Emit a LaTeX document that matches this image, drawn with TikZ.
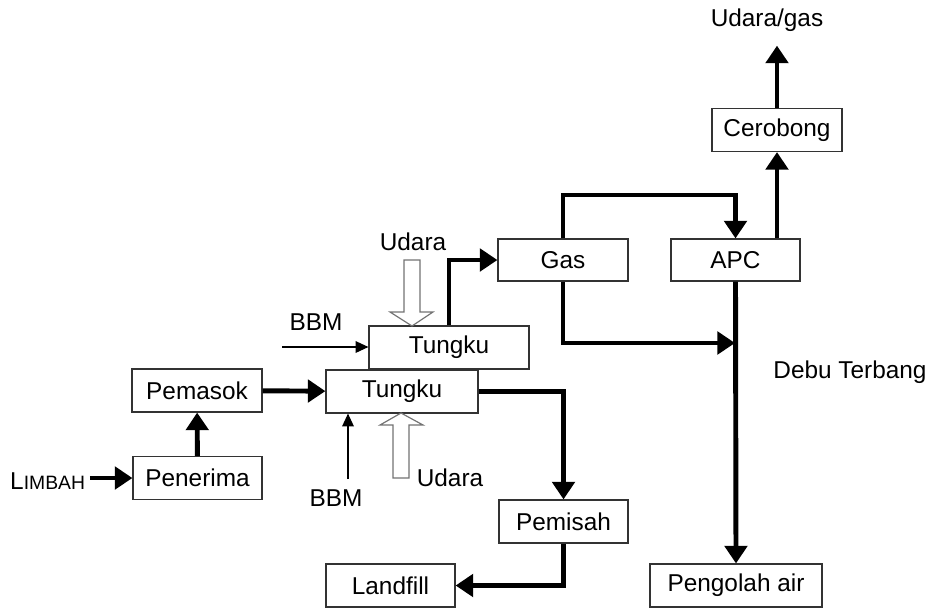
\documentclass[tikz,border=0pt]{standalone}
\usepackage{fontspec}
\setmainfont{Liberation Sans}
\usetikzlibrary{arrows.meta}
\tikzset{
  unitbox/.style={draw=black!80, line width=1pt, fill=white, inner sep=0pt,
    minimum height=43*0.03cm, font=\fontsize{20.8}{24}\selectfont},
  lbl/.style={inner sep=0pt, font=\fontsize{20.8}{24}\selectfont},
  flow/.style={line width=4.2pt, -{Triangle[length=15pt,width=19pt]}},
  feed/.style={line width=1pt, -{Triangle[length=11pt,width=10pt]}},
  hollow/.style={draw=black!55, line width=1pt, fill=white, line join=miter}
}
% open arrow: shaft x0..x1, shaft end y, head base y, head x2..x3, tip y
\newcommand{\openarrow}[7]{\draw[hollow] (#1,#3) -- (#1,#4) -- (#5,#4) -- ({(#1+#2)/2},#7) -- (#6,#4) -- (#2,#4) -- (#2,#3) -- cycle;}
\begin{document}
\begin{tikzpicture}[x=0.03cm, y=-0.03cm]
\useasboundingbox (0,0) rectangle (931,607);

% boxes
\node[unitbox, minimum width=130*0.03cm] (cerobong) at (777,130) {Cerobong};
\node[unitbox, minimum width=130*0.03cm, minimum height=42*0.03cm] (gas) at (563,260) {Gas};
\node[unitbox, minimum width=129*0.03cm, minimum height=42*0.03cm] (apc) at (735.5,260) {APC};
\node[unitbox, minimum width=160*0.03cm] (tungkuA) at (449,347.5) {Tungku};
\node[unitbox, minimum width=152*0.03cm] (tungkuB) at (402,391.5) {Tungku};
\node[unitbox, minimum width=130*0.03cm] (pemasok) at (197,390.5) {Pemasok};
\node[unitbox, minimum width=129*0.03cm] (penerima) at (197.5,478) {Penerima};
\node[unitbox, minimum width=129*0.03cm] (pemisah) at (563.5,521.5) {Pemisah};
\node[unitbox, minimum width=129*0.03cm] (landfill) at (390.5,585.5) {Landfill};
\node[unitbox, minimum width=172*0.03cm] (pengolah) at (736,585.5) {Pengolah air};

% text
\node[lbl] (udaragas) at (767,20) {Udara/gas};
\node[lbl] (udaraA) at (413,242) {Udara};
\node[lbl] (bbmA) at (316,322) {BBM};
\node[lbl] (udaraB) at (450,478) {Udara};
\node[lbl] (bbmB) at (336,498) {BBM};
\node[lbl, anchor=west] (limbah) at (10,481) {L{\fontsize{16.5}{18}\selectfont IMBAH}};
\node[lbl] (debu) at (850,372) {Debu Terbang};

% bends
\coordinate (gastop) at (650,195);
\coordinate (dust) at (735,343);
\coordinate (feedA) at (282,347);
\coordinate (feedB) at (348,479);

% arrows
\draw[flow] ([xshift=4pt]limbah.east |- penerima) -- (penerima);
\draw[flow] (penerima) -- (pemasok);
\draw[flow] (pemasok) -- (tungkuB);
\draw[flow] (tungkuB.east) -| (pemisah.north);
\draw[flow] (pemisah.south) |- (landfill.east);
\draw[flow] (tungkuA.north) |- (gas.west);
\draw[flow] (gas.north) |- (gastop) -| (apc.north);
\draw[flow] (cerobong.south |- apc.north) -- (cerobong.south);
\draw[flow] (cerobong.north) -- ([yshift=-12pt]cerobong.north |- udaragas.south);
\draw[flow] (gas.south) |- (dust);
\draw[flow] (apc.south) -- (pengolah.north);
\draw[feed] (feedA) -- (feedA -| tungkuA.west);
\draw[feed] (feedB) -- (feedB |- tungkuB.south);

% udara inlets
\openarrow{404}{420}{260}{312}{390}{433}{326}
\openarrow{393}{409}{478}{425}{380}{423}{413}
\end{tikzpicture}
\end{document}
